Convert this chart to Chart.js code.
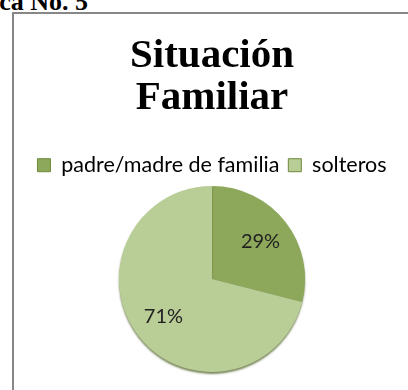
<!DOCTYPE html>
<html>
<head>
<meta charset="utf-8">
<script src="https://cdn.jsdelivr.net/npm/chart.js@4"></script>
<style>
  body { margin: 0; background: #fff; width: 408px; height: 390px; overflow: hidden; position: relative; }
  #cap { position: absolute; right: 320px; top: -11px; font: bold 26px/26px "Liberation Serif", serif; color: #000; white-space: nowrap; }
  #box { position: absolute; left: 12px; top: 12px; width: 400px; height: 400px; border: 2px solid #878787; }
  #wrap { position: absolute; left: 0; top: 0; width: 396px; height: 376px; }
</style>
</head>
<body>
<div id="cap">Gráfica No. 5</div>
<div id="box"><div id="wrap"><canvas id="chart"></canvas></div></div>
<script>
// Situación familiar de los encuestados (porcentajes)
const categorias = ["padre/madre de familia", "solteros"];
const porcentajes = [29, 71];
const colores = ["#8DA85B", "#B9CD96"];

// Escribe el porcentaje dentro de cada sector
const etiquetas = {
    id: "etiquetas",
    afterDatasetsDraw(chart) {
        const ctx = chart.ctx;
        const meta = chart.getDatasetMeta(0);
        ctx.save();
        ctx.font = "20px Lato, sans-serif";
        ctx.fillStyle = "#222";
        ctx.textAlign = "center";
        ctx.textBaseline = "middle";
        meta.data.forEach((arc, i) => {
            const p = arc.getProps(["x", "y", "startAngle", "endAngle", "outerRadius"], true);
            const mid = (p.startAngle + p.endAngle) / 2;
            const r = p.outerRadius * 0.66;
            ctx.fillText(porcentajes[i] + "%", p.x + Math.cos(mid) * r, p.y + Math.sin(mid) * r);
        });
        ctx.restore();
    }
};

// Sombra ligera bajo el pastel
const sombra = {
    id: "sombra",
    beforeDatasetsDraw(chart) {
        const ctx = chart.ctx;
        ctx.save();
        ctx.shadowColor = "rgba(70, 90, 30, 0.7)";
        ctx.shadowBlur = 2;
        ctx.shadowOffsetY = 2;
    },
    afterDatasetsDraw(chart) {
        chart.ctx.restore();
    }
};

const contexto = document.getElementById("chart");
new Chart(contexto, {
    type: "pie",
    data: {
        labels: categorias,
        datasets: [{
            data: porcentajes,
            backgroundColor: colores,
            borderWidth: 0
        }]
    },
    options: {
        responsive: true,
        maintainAspectRatio: false,
        animation: false,
        layout: { padding: { bottom: 18 } },
        plugins: {
            title: {
                display: true,
                text: ["Situación", "Familiar"],
                color: "#000",
                font: { family: "'Liberation Serif', serif", size: 41, weight: "bold", lineHeight: 1.03 },
                padding: { top: 21, bottom: 26 }
            },
            legend: {
                position: "top",
                labels: {
                    color: "#222",
                    font: { family: "Lato, sans-serif", size: 21.5 },
                    boxWidth: 13,
                    boxHeight: 13,
                    padding: 9,
                    generateLabels(chart) {
                        return categorias.map((c, i) => ({
                            text: c,
                            fillStyle: colores[i],
                            strokeStyle: "#6f8a3c",
                            lineWidth: 1,
                            index: i
                        }));
                    }
                }
            },
            tooltip: { enabled: false }
        }
    },
    plugins: [sombra, etiquetas]
});
</script>
</body>
</html>
